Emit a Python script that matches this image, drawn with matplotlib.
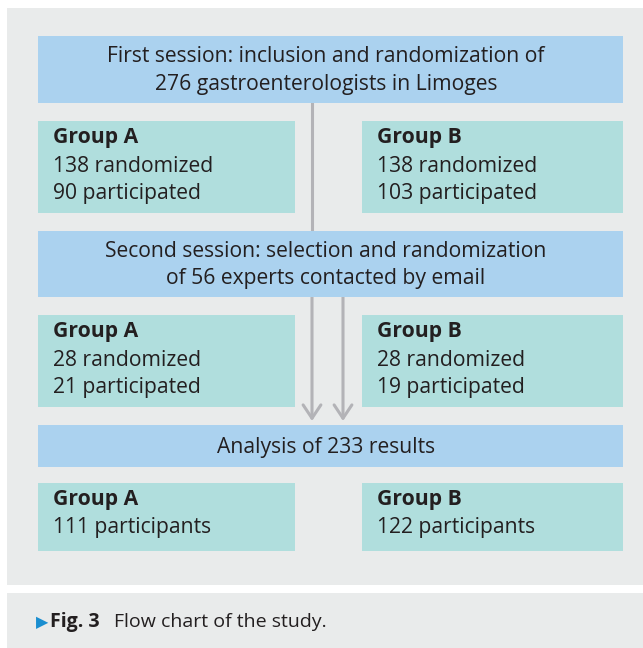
#!/usr/bin/env python3
"""Flow chart of the study (Fig. 3) redrawn with matplotlib."""
import matplotlib
matplotlib.use("Agg")
import matplotlib.pyplot as plt
from matplotlib.patches import Rectangle, FancyArrowPatch

# --- content -----------------------------------------------------------
sessions = [
    "First session: inclusion and randomization of\n276 gastroenterologists in Limoges",
    "Second session: selection and randomization\nof 56 experts contacted by email",
    "Analysis of 233 results",
]
groups = ["Group A", "Group B"]
randomized = [[138, 138], [28, 28]]
participated = [[90, 103], [21, 19]]
final_participants = [111, 122]
caption_label = "Fig. 3"
caption_text = "Flow chart of the study."

# --- style -------------------------------------------------------------
PANEL = "#e9ebeb"
BLUE = "#abd2ef"
TEAL = "#b0dedd"
INK = "#231f20"
LINE = "#b3b3b7"
ACCENT = "#1a8ed0"
FONT = ["Open Sans", "DejaVu Sans"]
FS = 15.2

W, H = 643, 648
fig = plt.figure(figsize=(W / 100, H / 100), dpi=100)
ax = fig.add_axes([0, 0, 1, 1])
ax.set_xlim(0, W)
ax.set_ylim(H, 0)
ax.axis("off")


def box(x0, y0, x1, y1, color, z=2):
    ax.add_patch(Rectangle((x0, y0), x1 - x0, y1 - y0, facecolor=color,
                           edgecolor="none", zorder=z))


# background panels
box(7, 8, W, 585, PANEL, z=0)
box(7, 593, W, H, PANEL, z=0)

# connecting lines and arrows
ax.plot([312, 312], [103, 231], color=LINE, lw=2.2, zorder=1)
for xa in (312, 343):
    ax.add_patch(FancyArrowPatch((xa, 297), (xa, 421), arrowstyle="->,head_length=6,head_width=4",
                                 color=LINE, lw=2.2, mutation_scale=1.6, zorder=1,
                                 shrinkA=0, shrinkB=0))

# session boxes
session_rows = [(36, 103), (231, 297), (425, 467)]
for text, (y0, y1) in zip(sessions, session_rows):
    box(38, y0, 623, y1, BLUE)
    ax.text(326, (y0 + y1) / 2 + 1, text, ha="center", va="center", fontsize=FS,
            color=INK, family=FONT, linespacing=1.4, zorder=3)

# group boxes
group_cols = [(38, 295), (362, 623)]
group_rows = [(121, 213), (315, 407), (483, 551)]
for r, (y0, y1) in enumerate(group_rows):
    for c, (x0, x1) in enumerate(group_cols):
        box(x0, y0, x1, y1, TEAL)
        if r < 2:
            lines = [f"{randomized[r][c]} randomized", f"{participated[r][c]} participated"]
        else:
            lines = [f"{final_participants[c]} participants"]
        ax.text(x0 + 15, y0 + 17, groups[c], ha="left", va="center", fontsize=FS,
                fontweight="bold", color=INK, family=FONT, zorder=3)
        for k, ln in enumerate(lines):
            ax.text(x0 + 15, y0 + 45 + 28 * k, ln, ha="left", va="center", fontsize=FS,
                    color=INK, family=FONT, zorder=3)

# caption
ax.text(36, 623, "\u25B6", ha="left", va="center", fontsize=11.5, color=ACCENT,
        family=["DejaVu Sans"], zorder=3)
ax.text(50, 622, caption_label, ha="left", va="center", fontsize=14,
        fontweight="bold", color=INK, family=FONT, zorder=3)
ax.text(114, 622, caption_text, ha="left", va="center", fontsize=14,
        color=INK, family=FONT, zorder=3)

fig.savefig("out.png", dpi=100, facecolor="white")
